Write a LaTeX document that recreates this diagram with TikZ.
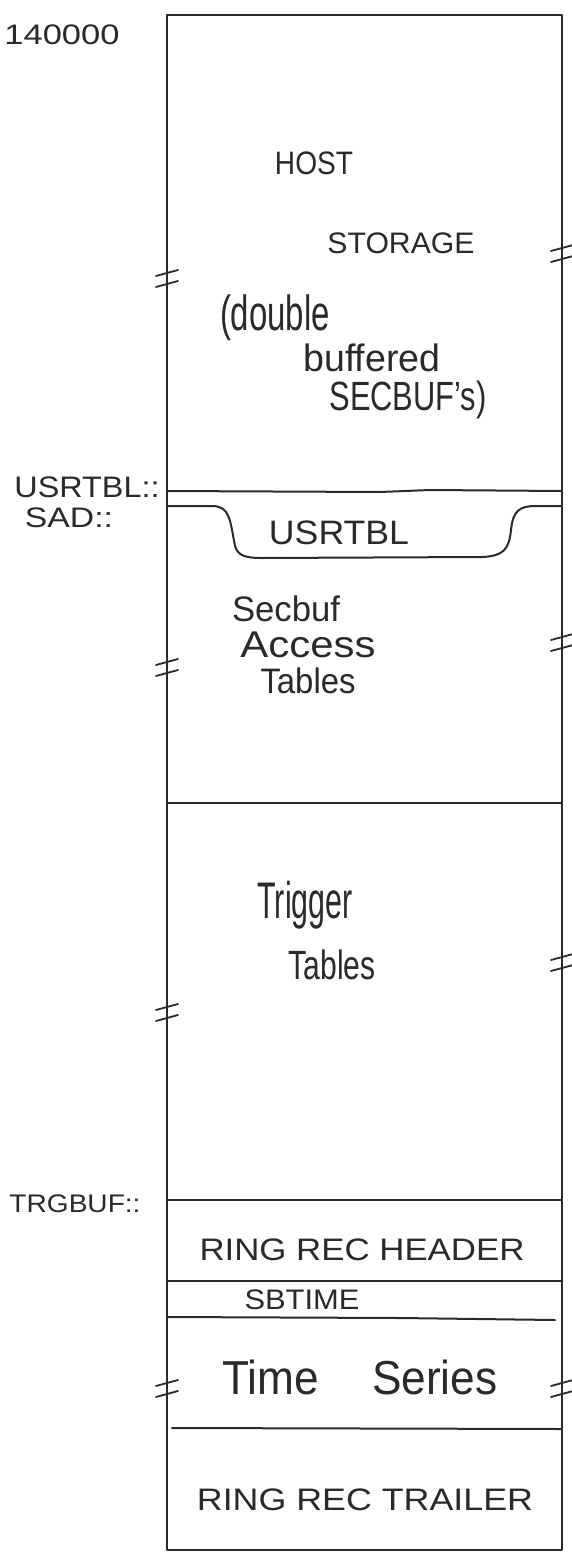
\documentclass[tikz,border=0pt]{standalone}
\usepackage{fontspec}
\usepackage{graphicx}
\setmainfont{Liberation Sans}
\newcommand{\fitbox}[3]{\resizebox*{#1pt}{#2pt}{#3}}
\definecolor{ink}{HTML}{2A2A2A}
\tikzset{
  pen/.style={draw=ink, line width=2pt, line cap=round, line join=round},
  txt/.style={inner sep=0pt, text=ink, anchor=center},
  brk/.pic={\draw[pen, line width=1.8pt] (-11,-2) -- (11,-8); \draw[pen, line width=1.8pt] (-11,9) -- (11,3);}
}
\begin{document}
\begin{tikzpicture}[x=1pt,y=-1pt]
\useasboundingbox (0,0) rectangle (571,1554);
\fill[white] (0,0) rectangle (571,1554);
% outer box
\draw[pen] (167,15) -- (562,15) -- (562,1550) -- (167,1550) -- cycle;
% separators
\draw[pen] (167,491) -- (380,492) -- (430,490) -- (562,491);
\draw[pen] (167,506) -- (212,506) .. controls (230,506) and (230,520) .. (235,546)
  .. controls (238,556) and (246,558) .. (262,558) -- (482,557)
  .. controls (503,556) and (509,550) .. (511,530)
  .. controls (513,511) and (519,506) .. (536,506) -- (562,506);
\draw[pen] (167,803) -- (562,803);
\draw[pen] (167,1200) -- (562,1200);
\draw[pen] (167,1281) -- (562,1281);
\draw[pen] (167,1317) -- (400,1318) -- (555,1320);
\draw[pen] (172,1428) -- (562,1429);
% break marks
\pic at (167,278) {brk};
\pic at (562,253) {brk};
\pic at (167,667) {brk};
\pic at (562,642) {brk};
\pic at (167,1012) {brk};
\pic at (562,962) {brk};
\pic at (167,1388) {brk};
\pic at (562,1388) {brk};
% texts
\node[txt] (addr) at (62,35) {\fitbox{115}{20}{140000}};
\node[txt] (host) at (314,163) {\fitbox{78}{23}{HOST}};
\node[txt] (stor) at (401,243) {\fitbox{147}{21}{STORAGE}};
\node[txt] (dbl) at (275,318) {\fitbox{110}{46}{(double}};
\node[txt] (buf) at (372,358) {\fitbox{137}{28}{buffered}};
\node[txt] (sec) at (408,400) {\fitbox{157}{38}{SECBUF's)}};
\node[txt] (lusr) at (87,487) {\fitbox{145}{21}{USRTBL::}};
\node[txt] (lsad) at (69,518) {\fitbox{88}{20}{SAD::}};
\node[txt] (usr) at (339,533) {\fitbox{140}{24}{USRTBL}};
\node[txt] (sb1) at (286,609) {\fitbox{108}{26}{Secbuf}};
\node[txt] (sb2) at (308,645) {\fitbox{135}{26}{Access}};
\node[txt] (sb3) at (308,681) {\fitbox{95}{26}{Tables}};
\node[txt] (tr1) at (305,905) {\fitbox{95}{48}{Trigger}};
\node[txt] (tr2) at (332,965) {\fitbox{87}{30}{Tables}};
\node[txt] (ltrg) at (75,1204) {\fitbox{131}{18}{TRGBUF::}};
\node[txt] (hdr) at (362,1250) {\fitbox{325}{22}{RING REC HEADER}};
\node[txt] (sbt) at (302,1300) {\fitbox{115}{20}{SBTIME}};
\node[txt] (ts) at (360,1377) {\fitbox{275}{35}{Time\hspace{1.2em}Series}};
\node[txt] (trl) at (365,1500) {\fitbox{336}{22}{RING REC TRAILER}};
\end{tikzpicture}
\end{document}
